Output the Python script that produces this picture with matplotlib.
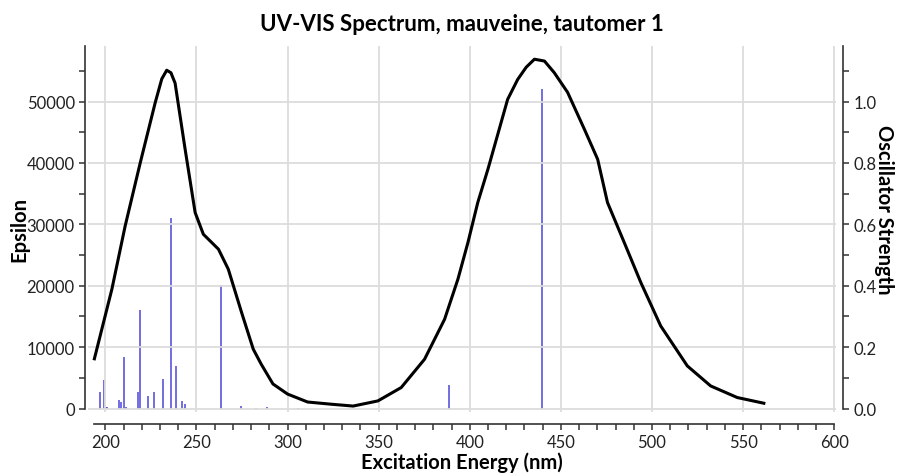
import numpy as np
import matplotlib
matplotlib.use("Agg")
import matplotlib.pyplot as plt

plt.rcParams['font.family'] = ['Lato', 'DejaVu Sans']

# Broadened spectrum (epsilon vs wavelength)
wavelength = [194, 203.6, 210.9, 219.2, 227.4, 231.0, 233.7, 236.0, 238.3, 243.8,
              249.3, 253.8, 262.1, 267.5, 274.8, 281.2, 285.6, 292, 300, 311,
              324, 336, 349.6, 362.4, 375.2, 386.2, 393.5, 399.0, 404.4, 410.0,
              420.8, 426.3, 431.0, 435.5, 441.0, 446.4, 453.7, 462.9, 470.2, 475.6,
              484.8, 493.9, 504.8, 519.4, 532.2, 546.8, 561.4]
epsilon = [8100, 19430, 29740, 40060, 49840, 53700, 55100, 54700, 53000, 42230,
           31920, 28390, 25950, 22690, 15630, 9660, 7200, 4000, 2360, 1060,
           700, 400, 1240, 3420, 8030, 14540, 21060, 27030, 33550, 39000,
           50360, 53600, 55600, 56900, 56600, 54700, 51500, 45500, 40600, 33550,
           27030, 20520, 13450, 6940, 3680, 1790, 860]

# Individual transitions (oscillator strengths)
stick_nm = [197.3, 199.1, 200.5, 201.2, 207.7, 208.8, 210.4, 211.2, 217.7, 219.2,
            223.2, 226.5, 231.9, 236.1, 238.7, 242.3, 243.8, 263.5, 274.3, 282.7,
            288.9, 305.5, 388.5, 439.5]
stick_f = [0.053, 0.092, 0.006, 0.005, 0.028, 0.020, 0.168, 0.006, 0.053, 0.320,
           0.040, 0.053, 0.097, 0.620, 0.140, 0.026, 0.015, 0.403, 0.008, 0.003,
           0.006, 0.003, 0.075, 1.040]

x_ticks = [200, 250, 300, 350, 400, 450, 500, 550, 600]
eps_ticks = [0, 10000, 20000, 30000, 40000, 50000]
f_ticks = [0.0, 0.2, 0.4, 0.6, 0.8, 1.0]

W, H = 901, 477
fig = plt.figure(figsize=(W / 100, H / 100), dpi=100)
ax = fig.add_axes([88 / W, (H - 413.2) / H, 748 / W, 366.5 / H])
ax2 = ax.twinx()

ax.set_xlim(190.5, 601)
ax.set_ylim(-600, 59100)
ax2.set_ylim(-0.012, 1.182)

ax.grid(True, color='#dcdcdc', linewidth=1.3)
ax.set_axisbelow(True)

ax2.vlines(stick_nm, 0, stick_f, color='#5a55dc', linewidth=1.2)
ax.plot(wavelength, epsilon, color='black', linewidth=2.2, zorder=5)
ax.set_zorder(ax2.get_zorder() + 1)
ax.patch.set_visible(False)

spine_col = '#333333'
for a in (ax, ax2):
    a.spines['top'].set_visible(False)
ax.spines['right'].set_visible(False)
ax2.spines['left'].set_visible(False)
ax2.spines['bottom'].set_visible(False)

ax.spines['left'].set_position(('outward', 2))
ax.spines['left'].set_bounds(0, 59100)
ax.spines['bottom'].set_position(('outward', 8.5))
ax.spines['bottom'].set_bounds(193.7, 600)
ax2.spines['right'].set_position(('outward', 5))
ax2.spines['right'].set_bounds(0, 1.182)
for sp in (ax.spines['left'], ax.spines['bottom'], ax2.spines['right']):
    sp.set_color(spine_col)
    sp.set_linewidth(1.2)

ax.set_xticks(x_ticks)
ax.set_xticks(np.arange(200, 601, 10), minor=True)
ax.set_yticks(eps_ticks)
ax.set_yticks(np.arange(0, 59000, 5000), minor=True)
ax2.set_yticks(f_ticks)
ax2.set_yticks(np.arange(0, 1.15, 0.1), minor=True)
ax2.set_yticklabels([f'{v:.1f}' for v in f_ticks])

for a in (ax, ax2):
    a.tick_params(which='both', direction='out', length=4, width=1.1,
                  color=spine_col, labelsize=12, labelcolor='#222222')
ax.yaxis.grid(False, which='minor')
ax.xaxis.grid(False, which='minor')

ax.set_title('UV-VIS Spectrum, mauveine, tautomer 1', fontsize=16, fontweight='bold', pad=11)
ax.set_xlabel('Excitation Energy (nm)', fontsize=14.5, fontweight='bold', labelpad=1)
ax.set_ylabel('Epsilon', fontsize=14.5, fontweight='bold')
ax.yaxis.set_label_coords(-0.078, 0.5)
ax2.set_ylabel('Oscillator Strength', fontsize=14.5, fontweight='bold', rotation=-90)
ax2.yaxis.set_label_coords(1.078, 0.555)

fig.savefig('out.png', dpi=100)
